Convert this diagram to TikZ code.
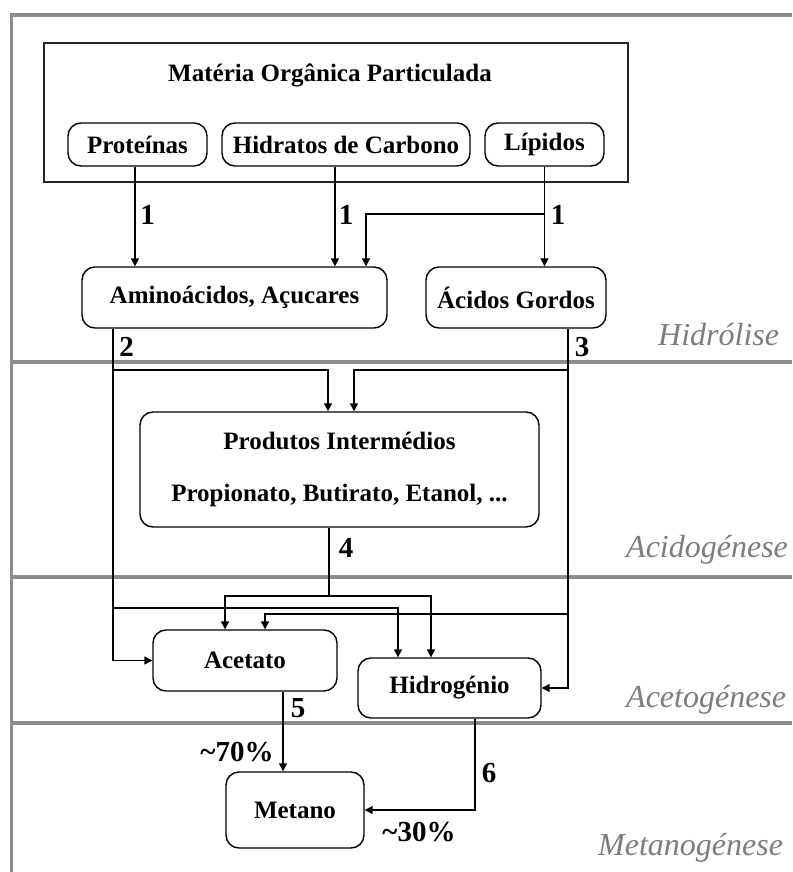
\documentclass[tikz,border=0pt]{standalone}
\usepackage{fontspec}
\setmainfont{Liberation Serif}
\usetikzlibrary{arrows.meta,calc}
\definecolor{framegray}{RGB}{140,140,140}
\definecolor{phasegray}{RGB}{125,125,125}
\begin{document}
\begin{tikzpicture}[x=1pt,y=-1pt,
  box/.style={draw=black, line width=1.4pt, rounded corners=13pt, inner sep=0pt,
    font=\fontsize{25}{29}\selectfont\bfseries, align=center},
  bigbox/.style={draw=black!85, line width=2pt, inner sep=0pt},
  titletext/.style={font=\fontsize{25}{29}\selectfont\bfseries, inner sep=0pt},
  lab/.style={font=\fontsize{29}{33}\selectfont\bfseries, inner sep=0pt},
  phase/.style={font=\fontsize{32}{36}\selectfont\itshape, text=phasegray, inner sep=0pt, anchor=base west},
  conn/.style={line width=1.4pt, black},
  arr/.style={conn, -{Triangle[width=8pt,length=8pt]}},
  sep/.style={draw=framegray, line width=3.5pt}
]
\useasboundingbox (0,0) rectangle (792,872);
% frame and separators
\draw[sep] (11.5,872) -- (11.5,15) -- (792,15);
\draw[sep] (11.5,362) -- (792,362);
\draw[sep] (11.5,577) -- (792,577);
\draw[sep] (11.5,723) -- (792,723);

% phase labels
\node[phase] (ph1) at (658,345) {Hidrólise};
\node[phase] (ph2) at (626,557) {Acidogénese};
\node[phase] (ph3) at (626,707) {Acetogénese};
\node[phase] (ph4) at (598,855) {Metanogénese};

% nodes
\node[bigbox, minimum width=584pt, minimum height=139pt] (mat) at (336,112.5) {};
\node[titletext] (mattitle) at (330,75) {Matéria Orgânica Particulada};
\node[box, minimum width=139pt, minimum height=43pt] (prot) at (137.5,144.5) {Proteínas};
\node[box, minimum width=248pt, minimum height=43pt] (hidr) at (346,144.5) {Hidratos de Carbono};
\node[box, minimum width=119pt, minimum height=43pt] (lip) at (544.5,144.5) {Lípidos};
\node[box, minimum width=305pt, minimum height=61pt] (amino) at (234.5,297.5) {Aminoácidos, Açucares};
\node[box, minimum width=180pt, minimum height=61pt] (acidos) at (516,297.5) {Ácidos Gordos};
\node[box, minimum width=399pt, minimum height=115pt] (prod) at (339.5,469.5)
  {Produtos Intermédios\\[23pt]Propionato, Butirato, Etanol, ...};
\node[box, minimum width=184pt, minimum height=61pt] (acet) at (245,660.5) {Acetato};
\node[box, minimum width=183pt, minimum height=60pt] (hidro) at (449.5,688) {Hidrogénio};
\node[box, minimum width=138pt, minimum height=76pt] (metano) at (295,810) {Metano};

% step 1
\draw[arr] ([xshift=-2.5pt]prot.south) -- ([xshift=-2.5pt]prot.south |- amino.north);
\draw[arr] ([xshift=-11pt]hidr.south) -- ([xshift=-11pt]hidr.south |- amino.north);
\draw[arr] (lip.south) -- (lip.south |- acidos.north);
\coordinate (j1) at (lip.south |- 0,214);
\draw[arr] (j1) -| ([xshift=131.5pt]amino.north);
\node[lab] (l1a) at (147.5,215) {1};
\node[lab] (l1b) at (346,215) {1};
\node[lab] (l1c) at (558,215) {1};

% step 2
\coordinate (s2) at ([xshift=-121.5pt]amino.south);
\draw[arr] (s2) |- (acet.west);
\coordinate (j2a) at (s2 |- 0,370);
\draw[arr] (j2a) -| ([xshift=-11.5pt]prod.north);
\coordinate (j2b) at (s2 |- 0,608);
\draw[arr] (j2b) -| ([xshift=-51.5pt]hidro.north);
\node[lab] (l2) at (126.5,347) {2};

% step 3
\coordinate (s3) at ([xshift=52pt]acidos.south);
\draw[arr] (s3) |- (hidro.east);
\coordinate (j3a) at (s3 |- 0,370);
\draw[arr] (j3a) -| ([xshift=14.5pt]prod.north);
\coordinate (j3b) at (s3 |- 0,614);
\draw[arr] (j3b) -| ([xshift=20pt]acet.north);
\node[lab] (l3) at (582,347) {3};

% step 4
\coordinate (s4) at ([xshift=-10.5pt]prod.south);
\coordinate (j4) at (s4 |- 0,596);
\draw[conn] (s4) -- (j4);
\draw[arr] (j4) -| ([xshift=-20pt]acet.north);
\draw[arr] (j4) -| ([xshift=-18.5pt]hidro.north);
\node[lab] (l4) at (346,548) {4};

% step 5
\draw[arr] ([xshift=38pt]acet.south) -- ([xshift=38pt]acet.south |- metano.north);
\node[lab] (l5) at (298,708) {5};
\node[lab] (p70) at (237,752) {\textasciitilde70\%};

% step 6
\draw[arr] ([xshift=25.5pt]hidro.south) |- (metano.east);
\node[lab] (l6) at (489,773) {6};
\node[lab] (p30) at (419,832) {\textasciitilde30\%};
\end{tikzpicture}
\end{document}
